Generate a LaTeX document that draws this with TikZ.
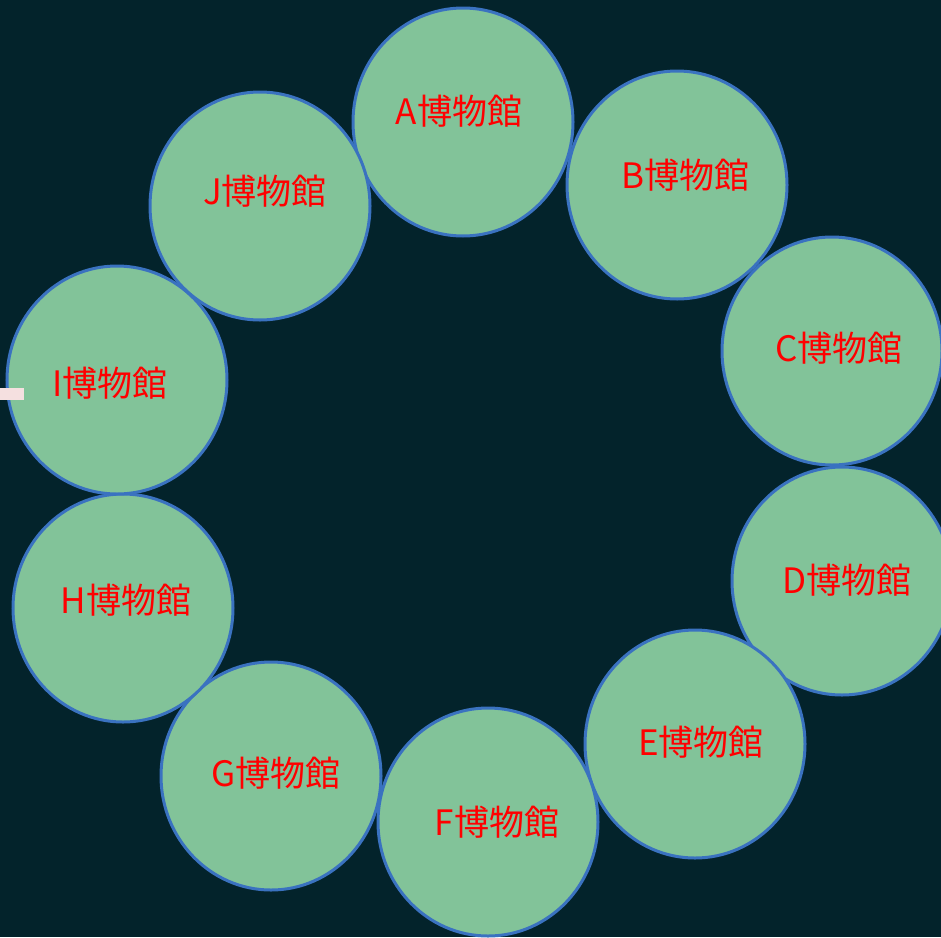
\documentclass[tikz,border=0pt]{standalone}
\usepackage{fontspec}
\newfontfamily\cjk{Noto Sans CJK JP}
\definecolor{bg}{HTML}{03232B}
\definecolor{mfill}{HTML}{82C399}
\definecolor{mline}{HTML}{3A72C0}
\definecolor{tag}{HTML}{F5E0E0}
\tikzset{
  museum/.style={ellipse, minimum width=220pt, minimum height=228pt, inner sep=0pt, fill=mfill, draw=mline, line width=3pt},
  mlabel/.style={text=red, font=\cjk\fontsize{35}{37}\selectfont, inner sep=0pt, anchor=center}
}
\usetikzlibrary{shapes.geometric}
\begin{document}
\begin{tikzpicture}[x=1pt,y=-1pt]
\useasboundingbox (0,0) rectangle (941,937);
\clip (0,0) rectangle (941,937);
\fill[bg] (0,0) rectangle (941,937);
\node[museum] (A) at (463,122) {};
\node[museum] (B) at (677,185) {};
\node[museum] (C) at (832,351) {};
\node[museum] (D) at (842,581) {};
\node[museum] (E) at (695,744) {};
\node[museum] (F) at (488,822) {};
\node[museum] (G) at (271,776) {};
\node[museum] (H) at (123,608) {};
\node[museum] (I) at (117,380) {};
\node[museum] (J) at (260,206) {};
\node[mlabel] (tA) at (459,111) {A博物館};
\node[mlabel] (tB) at (685,175) {B博物館};
\node[mlabel] (tC) at (839,348) {C博物館};
\node[mlabel] (tD) at (847,580) {D博物館};
\node[mlabel] (tE) at (701,742) {E博物館};
\node[mlabel] (tF) at (497,822) {F博物館};
\node[mlabel] (tG) at (276,773) {G博物館};
\node[mlabel] (tH) at (126,600) {H博物館};
\node[mlabel] (tI) at (110,383) {I博物館};
\node[mlabel] (tJ) at (265,191) {J博物館};
\fill[tag] (0,388) rectangle (24,400);
\end{tikzpicture}
\end{document}
